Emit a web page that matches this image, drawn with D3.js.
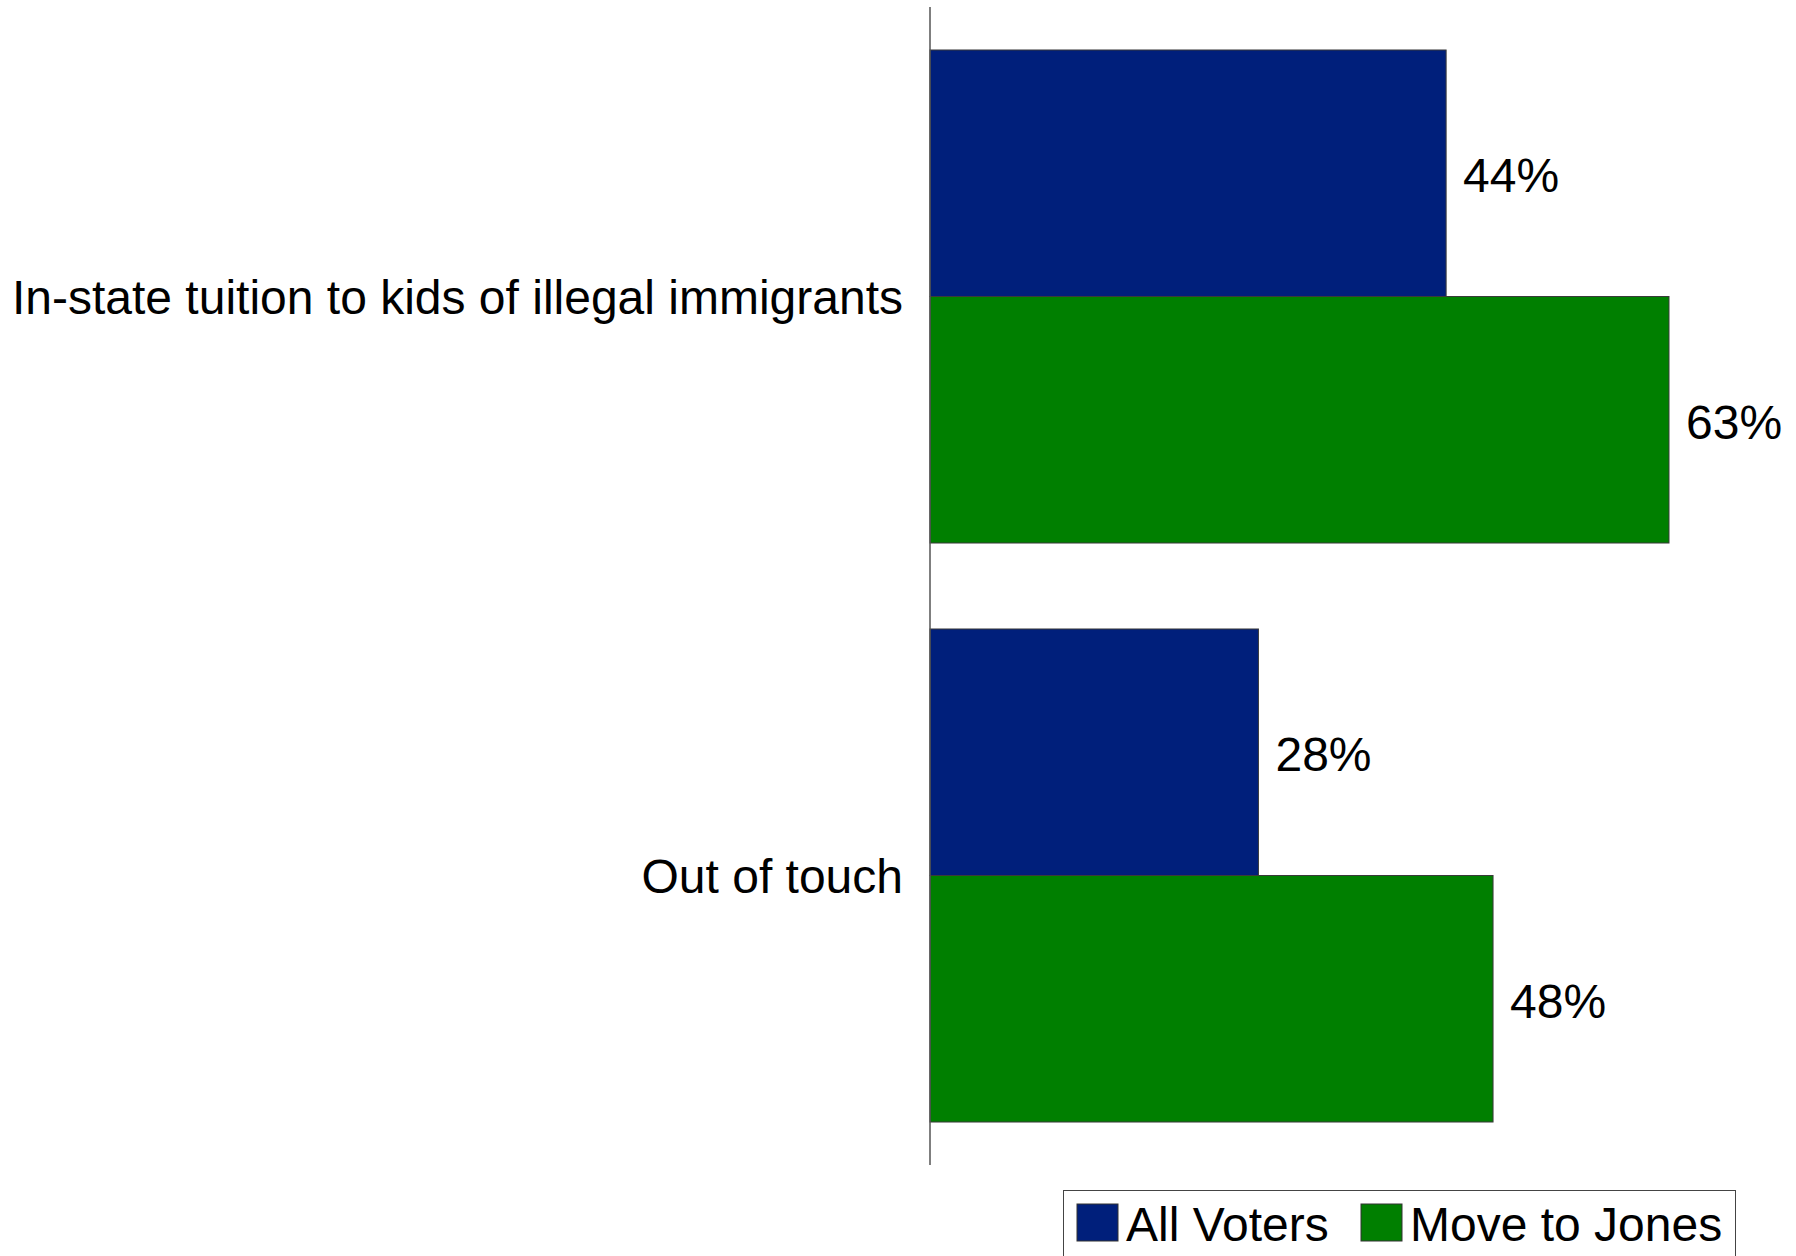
<!DOCTYPE html>
<html>
<head>
<meta charset="utf-8">
<script src="https://cdn.jsdelivr.net/npm/d3@7"></script>
<style>
  html, body { margin: 0; padding: 0; background: #fff; }
  svg { display: block; font-family: Arial, "Liberation Sans", sans-serif; }
</style>
</head>
<body>
<script>
const categories = ["In-state tuition to kids of illegal immigrants", "Out of touch"];
const seriesNames = ["All Voters", "Move to Jones"];
const allVoters = [44, 28];
const moveToJones = [63, 48];
const seriesColors = ["#001f7b", "#007f00"];

const W = 1796, H = 1256;
const svg = d3.select("body").append("svg").attr("width", W).attr("height", H);

const axisX = 930;
const x = d3.scaleLinear().domain([0, 100]).range([axisX, axisX + 1173]);
const y = d3.scaleBand().domain(categories).range([7, 1165])
  .paddingInner(0.1485).paddingOuter(0.07425);
const ySub = d3.scaleBand().domain(seriesNames).range([0, y.bandwidth()]);

const rows = categories.map((c, i) => ({
  cat: c,
  vals: [
    { s: seriesNames[0], v: allVoters[i], color: seriesColors[0] },
    { s: seriesNames[1], v: moveToJones[i], color: seriesColors[1] }
  ]
}));

const g = svg.append("g");
const groups = g.selectAll("g.cat").data(rows).join("g")
  .attr("class", "cat")
  .attr("transform", d => `translate(0,${y(d.cat)})`);

groups.selectAll("rect").data(d => d.vals).join("rect")
  .attr("x", x(0))
  .attr("y", d => ySub(d.s))
  .attr("width", d => x(d.v) - x(0))
  .attr("height", ySub.bandwidth())
  .attr("fill", d => d.color)
  .attr("stroke", "#3a3a3a")
  .attr("stroke-width", 1);

groups.selectAll("text.val").data(d => d.vals).join("text")
  .attr("class", "val")
  .attr("x", d => x(d.v) + 17)
  .attr("y", d => ySub(d.s) + ySub.bandwidth() / 2 + 19)
  .attr("font-size", 48)
  .attr("fill", "#000")
  .text(d => d.v + "%");

// category labels via axis
const yAxis = d3.axisLeft(y).tickSize(0).tickPadding(27);
const ax = svg.append("g").attr("transform", `translate(${axisX},0)`).call(yAxis);
ax.select(".domain").remove();
ax.selectAll("text")
  .attr("font-size", 48)
  .attr("font-family", "Arial, 'Liberation Sans', sans-serif")
  .attr("fill", "#000")
  .attr("dy", "0.36em");

// axis line
svg.append("line")
  .attr("x1", axisX).attr("x2", axisX)
  .attr("y1", 7).attr("y2", 1165)
  .attr("stroke", "#555").attr("stroke-width", 1.5);

// legend
const lg = svg.append("g");
lg.append("rect")
  .attr("x", 1063.5).attr("y", 1190.5)
  .attr("width", 672).attr("height", 90)
  .attr("fill", "#fff").attr("stroke", "#444").attr("stroke-width", 1);
const legendItems = [
  { name: seriesNames[0], color: seriesColors[0], x: 1077 },
  { name: seriesNames[1], color: seriesColors[1], x: 1361 }
];
const li = lg.selectAll("g.li").data(legendItems).join("g")
  .attr("transform", d => `translate(${d.x},1204)`);
li.append("rect")
  .attr("width", 41).attr("height", 37)
  .attr("fill", d => d.color)
  .attr("stroke", "#333").attr("stroke-width", 1);
li.append("text")
  .attr("x", 49).attr("y", 37)
  .attr("font-size", 48)
  .attr("fill", "#000")
  .text(d => d.name);
</script>
</body>
</html>
